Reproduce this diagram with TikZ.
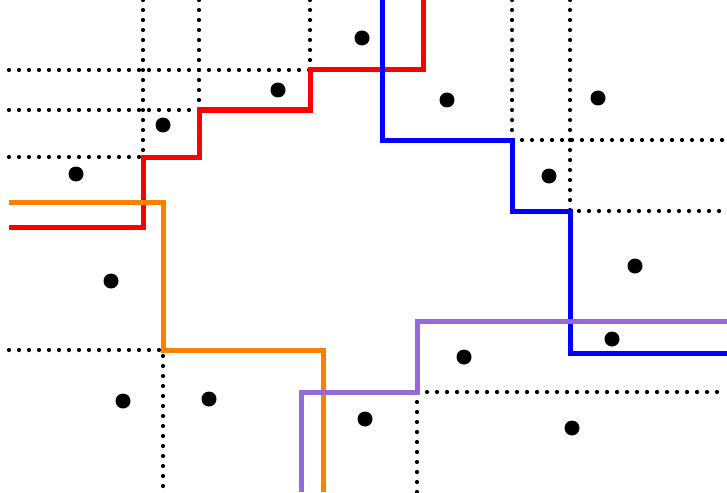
\documentclass[tikz,border=0pt]{standalone}
\usepackage{tikz}

\definecolor{orangeline}{RGB}{255,128,0}
\definecolor{purpleline}{RGB}{147,105,219}

\tikzset{
  gridline/.style={line width=4.2pt, line cap=round, dash pattern=on 0pt off 10pt},
  cutline/.style={line width=5pt},
}

\begin{document}
\begin{tikzpicture}[x=1pt,y=-1pt]
	\useasboundingbox (0,0) rectangle (727,492);

	% dotted cells
	\draw[gridline] (9,70) -- (310,70);
	\draw[gridline] (9,110) -- (199,110);
	\draw[gridline] (9,157) -- (143,157);
	\draw[gridline] (143,0) -- (143,157);
	\draw[gridline] (199,0) -- (199,110);
	\draw[gridline] (310,0) -- (310,70);
	\draw[gridline] (512,0) -- (512,140) -- (727,140);
	\draw[gridline] (570,0) -- (570,211) -- (727,211);
	\draw[gridline] (9,350) -- (163,350) -- (163,492);
	\draw[gridline] (417,492) -- (417,392) -- (727,392);

	% staircases
	\draw[cutline,red] (9,227) -- (143,227) -- (143,157) -- (199,157) -- (199,110) -- (310,110) -- (310,70) -- (423,70) -- (423,0);
	\draw[cutline,blue] (382,0) -- (382,140) -- (512,140) -- (512,211) -- (570,211) -- (570,353) -- (727,353);
	\draw[cutline,orangeline] (9,202) -- (163,202) -- (163,350) -- (323,350) -- (323,492);
	\draw[cutline,purpleline] (301,492) -- (301,392) -- (417,392) -- (417,321) -- (727,321);

	% points
	\foreach \p in {(362,38),(278,90),(163,125),(76,174),(447,100),(598,98),(549,176),(635,266),(612,339),(111,281),(123,401),(209,399),(464,357),(365,419),(572,428)}
		\fill \p circle (7.5pt);
\end{tikzpicture}
\end{document}
